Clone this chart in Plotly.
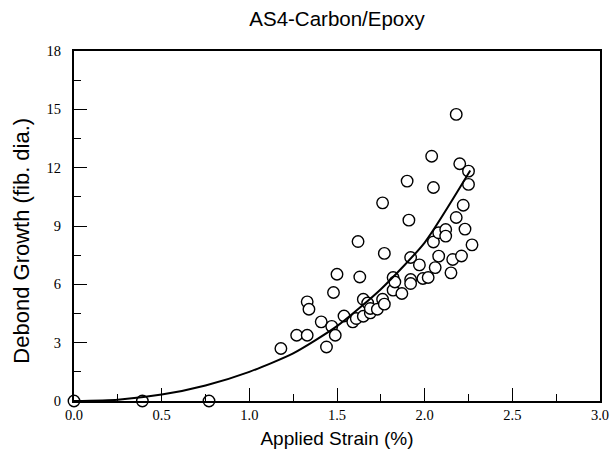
import plotly.graph_objects as go

# Measured data: applied strain (%) vs debond growth (fiber diameters)
strain = [0.00, 0.39, 0.77, 1.18, 1.27, 1.33, 1.33, 1.34, 1.41, 1.44, 1.47, 1.49, 1.48, 1.50,
          1.54, 1.59, 1.61, 1.62, 1.63, 1.65, 1.65, 1.675, 1.69, 1.69, 1.73, 1.76, 1.77, 1.77,
          1.76, 1.82, 1.82, 1.83, 1.87, 1.90, 1.91, 1.92, 1.92, 1.92, 1.97, 1.99, 2.02, 2.04,
          2.05, 2.05, 2.06, 2.08, 2.08, 2.12, 2.12, 2.15, 2.16, 2.18, 2.18, 2.20, 2.21, 2.22,
          2.23, 2.25, 2.25, 2.27]
debond = [0.00, 0.00, 0.00, 2.70, 3.38, 3.38, 5.10, 4.72, 4.07, 2.78, 3.84, 3.38, 5.58, 6.52,
          4.37, 4.07, 4.24, 8.20, 6.38, 4.36, 5.23, 5.04, 4.53, 4.76, 4.72, 5.23, 4.98, 7.59,
          10.19, 5.70, 6.35, 6.12, 5.53, 11.31, 9.30, 7.38, 6.25, 6.04, 7.00, 6.30, 6.35, 12.59,
          10.98, 8.18, 6.86, 7.45, 8.65, 8.82, 8.48, 6.59, 7.28, 14.74, 9.44, 12.20, 7.46, 10.07,
          8.84, 11.82, 11.14, 8.03]

# Fitted curve
fit_strain = [0.00, 0.25, 0.50, 0.75, 1.00, 1.25, 1.50, 1.75, 2.00, 2.26]
fit_debond = [0.00, 0.07, 0.33, 0.80, 1.50, 2.45, 3.85, 5.75, 8.15, 11.85]

x_ticks = [0.0, 0.5, 1.0, 1.5, 2.0, 2.5, 3.0]
y_ticks = [0, 3, 6, 9, 12, 15, 18]

fig = go.Figure()
fig.add_trace(go.Scatter(
    x=strain, y=debond, mode="markers",
    marker=dict(symbol="circle", size=11.5, color="white",
                line=dict(color="black", width=1.4)),
    cliponaxis=False, showlegend=False))
fig.add_trace(go.Scatter(
    x=fit_strain, y=fit_debond, mode="lines",
    line=dict(color="black", width=2, shape="spline", smoothing=0.6),
    showlegend=False))

tickfont = dict(family="Liberation Serif, Times New Roman, serif", size=14.5, color="black")
sans = "Liberation Sans, Arial, sans-serif"

fig.update_layout(
    width=610, height=449,
    margin=dict(l=74, r=10, t=51, b=48, autoexpand=False),
    paper_bgcolor="white", plot_bgcolor="white",
    title=dict(text="AS4-Carbon/Epoxy", x=0.5525, xanchor="center", y=0.958, yanchor="middle",
               font=dict(family=sans, size=20.5, color="black")),
    xaxis=dict(range=[0, 3], tickvals=x_ticks, ticktext=[f"{v:.1f}" for v in x_ticks],
               ticks="inside", ticklen=13, tickwidth=1, tickcolor="black",
               minor=dict(dtick=0.25, ticks="inside", ticklen=7, tickwidth=1, tickcolor="black"),
               showline=True, linecolor="black", linewidth=2, mirror=True, automargin=False,
               showgrid=False, zeroline=False, tickfont=tickfont, ticklabelstandoff=0,
               title=dict(text="Applied Strain (%)", font=dict(family=sans, size=19, color="black"),
                          standoff=9)),
    yaxis=dict(range=[0, 18], tickvals=y_ticks, ticktext=[str(v) for v in y_ticks],
               ticks="inside", ticklen=13, tickwidth=1, tickcolor="black",
               minor=dict(dtick=1.5, ticks="inside", ticklen=7, tickwidth=1, tickcolor="black"),
               showline=True, linecolor="black", linewidth=2, mirror=True, automargin=False,
               showgrid=False, zeroline=False, tickfont=tickfont, ticklabelstandoff=8),
    annotations=[dict(text="Debond Growth (fib. dia.)", textangle=-90,
                      xref="paper", yref="paper", x=-0.099, y=0.458,
                      xanchor="center", yanchor="middle", showarrow=False,
                      font=dict(family=sans, size=22, color="black"))],
)

fig.write_html("out.html")
